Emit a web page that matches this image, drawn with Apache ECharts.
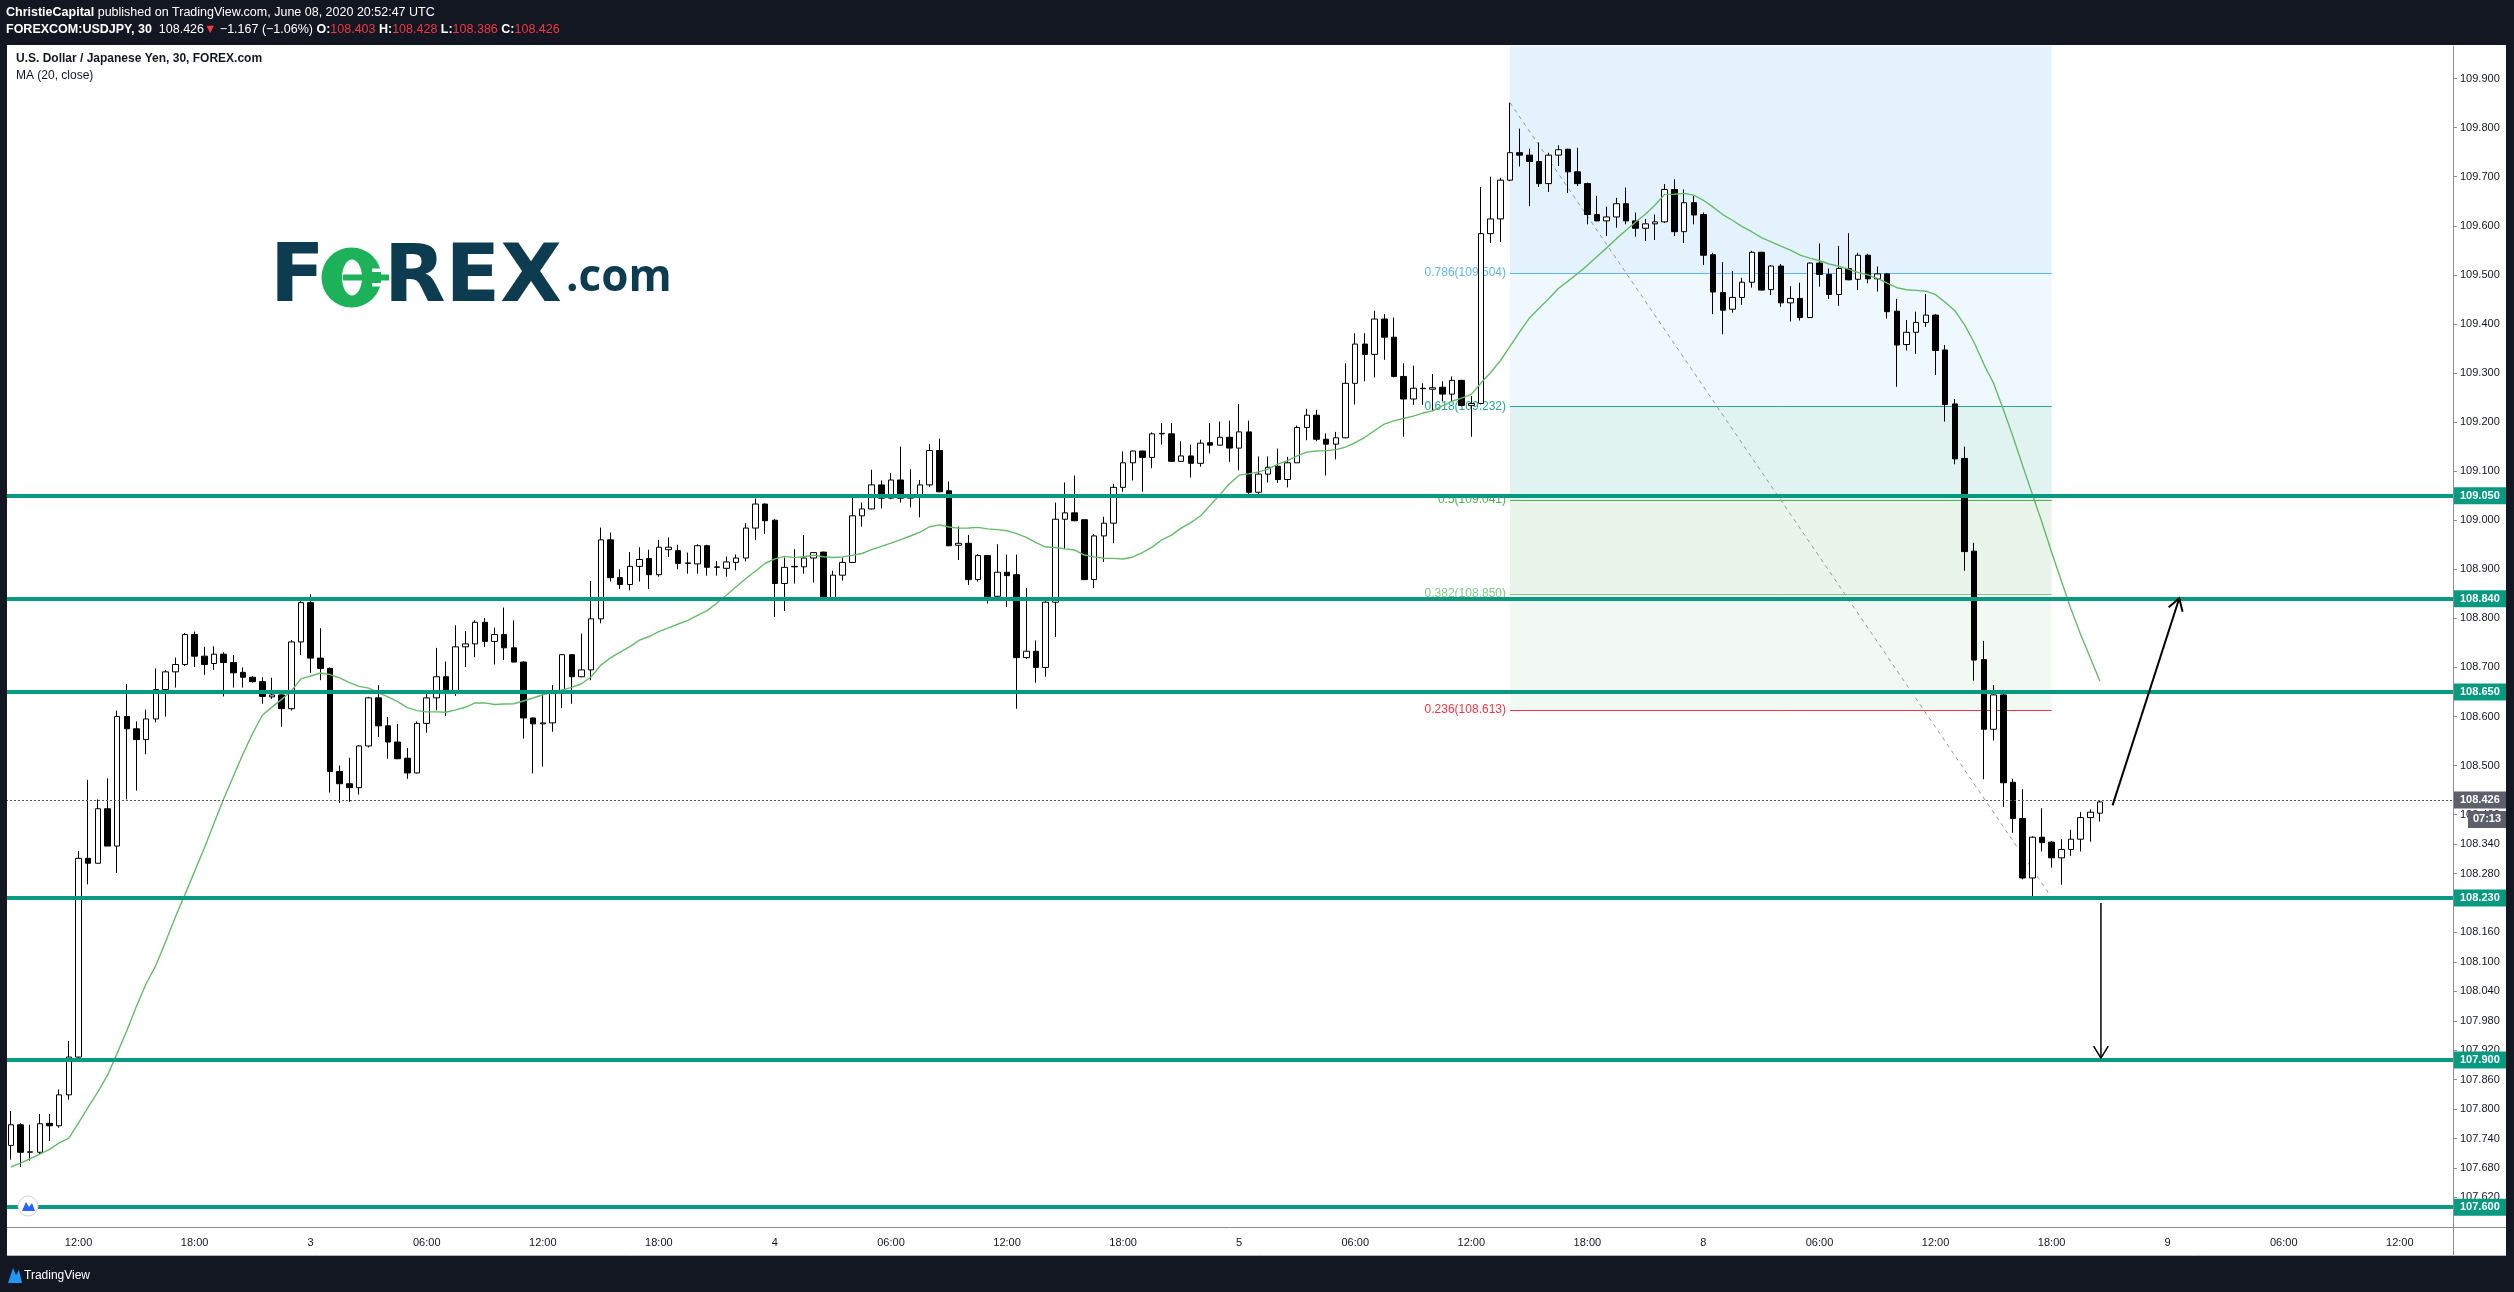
<!DOCTYPE html>
<html>
<head>
<meta charset="utf-8">
<title>USDJPY 30</title>
<script src="https://cdn.jsdelivr.net/npm/echarts@6/dist/echarts.min.js"></script>
<style>
  html, body { margin: 0; padding: 0; background: #131722; }
  #chart { width: 2514px; height: 1292px; }
</style>
</head>
<body>
<div id="chart"></div>
<script>
// 30 分鐘 K 線, 2020-06-02 08:30 UTC 起 (週末休市跳過), 共 217 根
const opens = [
  107.726,107.768,107.712,107.712,107.771,107.766,107.829,107.906,108.311,108.301,
  108.412,108.336,108.600,108.575,108.553,108.595,108.655,108.691,108.706,108.767,
  108.723,108.708,108.727,108.710,108.690,108.680,108.671,108.640,108.644,108.616,
  108.752,108.832,108.719,108.698,108.488,108.463,108.455,108.540,108.638,108.581,
  108.548,108.515,108.485,108.586,108.638,108.681,108.653,108.742,108.748,108.792,
  108.753,108.767,108.740,108.711,108.597,108.585,108.587,108.653,108.726,108.681,
  108.695,108.799,108.960,108.883,108.869,108.906,108.922,108.889,108.940,108.938,
  108.912,108.911,108.948,108.904,108.902,108.914,108.923,108.984,109.033,109.000,
  108.871,108.905,108.905,108.923,108.935,108.838,108.888,108.914,109.009,109.023,
  109.072,109.045,109.082,109.045,109.051,109.072,109.142,109.060,108.949,108.953,
  108.879,108.928,108.845,108.894,108.889,108.720,108.733,108.700,108.833,109.002,
  109.015,109.001,108.879,108.968,108.994,109.067,109.117,109.141,109.128,109.176,
  109.176,109.120,109.131,109.116,109.158,109.153,109.169,109.147,109.180,109.057,
  109.094,109.110,109.083,109.117,109.189,109.214,109.165,109.155,109.168,109.279,
  109.359,109.338,109.410,109.373,109.293,109.247,109.268,109.267,109.271,109.257,
  109.285,109.234,109.238,109.584,109.614,109.693,109.749,109.744,109.731,109.686,
  109.744,109.756,109.710,109.686,109.623,109.610,109.618,109.645,109.610,109.595,
  109.604,109.608,109.674,109.588,109.647,109.623,109.541,109.464,109.430,109.454,
  109.485,109.546,109.470,109.518,109.443,109.452,109.413,109.524,109.501,109.460,
  109.513,109.491,109.540,109.492,109.502,109.426,109.358,109.383,109.403,109.418,
  109.347,109.237,109.126,108.937,108.716,108.574,108.644,108.466,108.392,108.271,
  108.354,108.344,108.312,108.329,108.350,108.394,108.403
];
const highs = [
  107.796,107.771,107.768,107.790,107.790,107.840,107.939,108.326,108.471,108.431,
  108.474,108.612,108.666,108.590,108.614,108.698,108.695,108.720,108.770,108.773,
  108.742,108.743,108.731,108.725,108.700,108.682,108.680,108.679,108.653,108.756,
  108.838,108.849,108.780,108.700,108.500,108.516,108.542,108.640,108.664,108.599,
  108.585,108.536,108.590,108.652,108.740,108.712,108.786,108.774,108.796,108.801,
  108.781,108.822,108.796,108.712,108.598,108.645,108.664,108.727,108.727,108.769,
  108.876,108.985,108.975,108.900,108.935,108.945,108.940,108.960,108.965,108.950,
  108.934,108.951,108.950,108.917,108.926,108.930,108.994,109.044,109.034,109.002,
  108.924,108.941,108.970,108.935,108.936,108.897,108.924,109.053,109.036,109.103,
  109.081,109.096,109.150,109.104,109.082,109.155,109.166,109.079,108.987,108.970,
  108.931,108.929,108.951,108.930,108.930,108.862,108.755,108.839,109.036,109.077,
  109.091,109.002,108.972,109.007,109.074,109.140,109.142,109.142,109.179,109.198,
  109.198,109.161,109.154,109.164,109.198,109.201,109.203,109.237,109.203,109.130,
  109.130,109.146,109.129,109.193,109.227,109.225,109.177,109.180,109.320,109.381,
  109.381,109.427,109.420,109.413,109.320,109.315,109.279,109.298,109.283,109.293,
  109.286,109.253,109.679,109.700,109.698,109.851,109.798,109.757,109.770,109.749,
  109.764,109.757,109.759,109.688,109.661,109.639,109.657,109.678,109.627,109.614,
  109.623,109.685,109.695,109.674,109.661,109.627,109.545,109.526,109.508,109.494,
  109.549,109.547,109.520,109.522,109.477,109.484,109.525,109.564,109.513,109.559,
  109.585,109.545,109.543,109.517,109.504,109.451,109.408,109.425,109.461,109.420,
  109.357,109.247,109.150,108.954,108.754,108.664,108.647,108.473,108.452,108.356,
  108.413,108.346,108.350,108.369,108.405,108.411,108.428
];
const lows = [
  107.697,107.682,107.695,107.708,107.735,107.762,107.819,107.898,108.258,108.301,
  108.336,108.281,108.431,108.449,108.523,108.588,108.600,108.659,108.703,108.701,
  108.685,108.695,108.641,108.659,108.659,108.669,108.626,108.636,108.579,108.612,
  108.725,108.689,108.674,108.445,108.424,108.426,108.441,108.537,108.558,108.514,
  108.513,108.473,108.484,108.567,108.613,108.601,108.642,108.701,108.721,108.742,
  108.706,108.715,108.710,108.555,108.484,108.498,108.569,108.617,108.626,108.680,
  108.674,108.790,108.875,108.860,108.857,108.875,108.860,108.885,108.925,108.900,
  108.891,108.891,108.887,108.887,108.885,108.898,108.916,108.960,108.972,108.803,
  108.815,108.871,108.891,108.873,108.836,108.837,108.877,108.913,108.987,109.022,
  109.024,109.043,109.036,109.026,109.006,109.068,109.057,108.947,108.919,108.868,
  108.875,108.830,108.839,108.823,108.616,108.717,108.669,108.681,108.762,108.941,
  108.998,108.878,108.862,108.915,108.953,109.058,109.081,109.058,109.106,109.154,
  109.119,109.119,109.087,109.109,109.136,109.152,109.119,109.102,109.047,109.047,
  109.077,109.076,109.067,109.117,109.163,109.161,109.091,109.124,109.167,109.236,
  109.283,109.291,109.327,109.291,109.170,109.235,109.235,109.223,109.242,109.242,
  109.232,109.170,109.236,109.565,109.567,109.691,109.721,109.640,109.679,109.669,
  109.722,109.667,109.681,109.603,109.610,109.579,109.596,109.603,109.578,109.569,
  109.571,109.606,109.579,109.565,109.603,109.520,109.420,109.379,109.423,109.439,
  109.474,109.468,109.459,109.435,109.405,109.407,109.412,109.476,109.451,109.437,
  109.489,109.469,109.483,109.466,109.411,109.272,109.346,109.339,109.394,109.296,
  109.201,109.114,108.897,108.673,108.472,108.551,108.416,108.363,108.268,108.234,
  108.325,108.292,108.257,108.316,108.325,108.345,108.386
];
const closes = [
  107.768,107.712,107.713,107.770,107.766,107.829,107.906,108.311,108.301,108.412,
  108.336,108.600,108.575,108.553,108.595,108.655,108.691,108.706,108.767,108.723,
  108.706,108.727,108.710,108.689,108.680,108.671,108.641,108.644,108.616,108.752,
  108.832,108.719,108.698,108.488,108.463,108.455,108.540,108.638,108.581,108.548,
  108.514,108.485,108.586,108.638,108.681,108.653,108.742,108.748,108.792,108.753,
  108.767,108.740,108.711,108.597,108.585,108.587,108.653,108.726,108.681,108.695,
  108.799,108.960,108.883,108.869,108.906,108.920,108.889,108.945,108.945,108.912,
  108.913,108.948,108.904,108.905,108.915,108.923,108.984,109.033,108.999,108.871,
  108.904,108.906,108.923,108.934,108.837,108.888,108.914,109.009,109.023,109.072,
  109.045,109.082,109.045,109.051,109.072,109.142,109.058,108.948,108.953,108.879,
  108.928,108.844,108.894,108.887,108.720,108.733,108.700,108.833,109.002,109.015,
  108.999,108.879,108.968,108.994,109.067,109.117,109.141,109.128,109.176,109.177,
  109.120,109.131,109.116,109.157,109.153,109.169,109.147,109.180,109.057,109.094,
  109.108,109.083,109.117,109.189,109.214,109.165,109.155,109.168,109.279,109.359,
  109.338,109.410,109.373,109.293,109.247,109.269,109.269,109.270,109.257,109.285,
  109.234,109.238,109.584,109.614,109.693,109.749,109.744,109.731,109.686,109.744,
  109.755,109.710,109.686,109.623,109.610,109.618,109.645,109.610,109.595,109.604,
  109.608,109.674,109.588,109.647,109.622,109.540,109.465,109.428,109.454,109.485,
  109.546,109.469,109.518,109.443,109.452,109.413,109.524,109.501,109.460,109.513,
  109.490,109.540,109.492,109.502,109.425,109.357,109.383,109.403,109.418,109.346,
  109.236,109.125,108.936,108.715,108.574,108.644,108.465,108.392,108.271,108.354,
  108.343,108.312,108.329,108.350,108.394,108.405,108.426
];

// MA(20) 前 19 根需要畫面外的歷史收盤, 直接讀圖
const maLead = [
  107.682,107.690,107.699,107.708,107.718,107.731,107.741,107.772,107.804,107.835,
  107.869,107.914,107.960,108.010,108.056,108.093,108.141,108.191,108.237
];

// 支撐 / 壓力水平線
const levels = [109.050, 108.840, 108.650, 108.230, 107.900, 107.600];

// 費波那契回撤 (高點 109.851 -> 低點 108.231)
const fibRatios = [0.786, 0.618, 0.5, 0.382, 0.236];
const fibPrices = [109.504, 109.232, 109.041, 108.850, 108.613];
const fibHigh = 109.851;
const fibLow = 108.231;
const fibStart = 155; // 類目索引
const fibEnd = 211;

// 價格軸刻度 (TradingView 下半段改成 0.06 間距)
const priceTicks = [
  109.9, 109.8, 109.7, 109.6, 109.5, 109.4, 109.3, 109.2, 109.1, 109.0,
  108.9, 108.8, 108.7, 108.6, 108.5, 108.4, 108.34, 108.28, 108.22, 108.16,
  108.1, 108.04, 107.98, 107.92, 107.86, 107.8, 107.74, 107.68, 107.62
];
const yMin = 107.5597;
const yMax = 109.9664;
const lastPrice = 108.426;

// 手繪箭頭 [起點, 終點], [類目索引, 價格]
const arrows = [
  [[217.3, 108.419], [224.2, 108.841]],
  [[216.1, 108.220], [216.1, 107.904]]
];

/** 時間類目: 每 30 分鐘, 週五 21:00 到週日 21:00 休市 */
const times = [];
(function () {
  let t = Date.UTC(2020, 5, 2, 8, 30);
  const gapFrom = Date.UTC(2020, 5, 5, 21, 0);
  const gapTo = Date.UTC(2020, 5, 7, 21, 0);
  while (times.length < 253) {
    if (t < gapFrom || t >= gapTo) {
      times.push(new Date(t).toISOString().slice(0, 16).replace("T", " "));
    }
    t += 30 * 60 * 1000;
  }
})();

const candleData = opens.map((o, i) => [o, closes[i], lows[i], highs[i]]);
// MA(20, close): 之後用收盤價計算
const ma20 = closes.map((c, i) => {
  if (i < 19) return maLead[i];
  let s = 0;
  for (let k = i - 19; k <= i; k++) s += closes[k];
  return +(s / 20).toFixed(4);
});

const FONT = "'Liberation Sans', Arial, sans-serif";
const TEAL = "#089981";
const showTime = (idx, val) => {
  const hm = val.slice(11);
  return hm === "00:00" || hm === "06:00" || hm === "12:00" || hm === "18:00";
};

const fibColors = ["#64b5f6", "#26a69a", "#4caf50", "#81c784", "#f23645"];
const fibBands = [
  [yMax, fibPrices[0], "rgba(33,150,243,0.12)"],
  [fibPrices[0], fibPrices[1], "rgba(33,150,243,0.07)"],
  [fibPrices[1], fibPrices[2], "rgba(8,153,129,0.12)"],
  [fibPrices[2], fibPrices[3], "rgba(76,175,80,0.12)"],
  [fibPrices[3], fibPrices[4], "rgba(76,175,80,0.07)"]
];

/** 價格軸上的標籤方塊 */
const tagLabel = (text, bg) => ({
  show: true,
  position: "end",
  distance: 1,
  formatter: text,
  backgroundColor: bg,
  color: "#ffffff",
  fontWeight: "bold",
  fontSize: 11,
  fontFamily: FONT,
  padding: [3, 7, 3, 6]
});

const chart = echarts.init(document.getElementById("chart"));

const option = {
  animation: false,
  backgroundColor: "#ffffff",
  grid: { left: 6, right: 61, top: 46, bottom: 65 },
  xAxis: {
    type: "category",
    data: times,
    boundaryGap: true,
    axisLine: { lineStyle: { color: "#8a8d96", width: 1 } },
    axisTick: {
      interval: showTime,
      alignWithLabel: true,
      length: 3,
      lineStyle: { color: "#8a8d96" }
    },
    axisLabel: {
      interval: showTime,
      formatter: (v) => (v.slice(11) === "00:00" ? String(+v.slice(8, 10)) : v.slice(11)),
      color: "#131722",
      fontSize: 11,
      fontFamily: FONT,
      margin: 10
    },
    splitLine: { show: false }
  },
  yAxis: {
    type: "value",
    position: "right",
    min: yMin,
    max: yMax,
    axisLine: { show: true, lineStyle: { color: "#8a8d96" } },
    axisTick: { show: true, length: 4, customValues: priceTicks, lineStyle: { color: "#8a8d96" } },
    axisLabel: {
      customValues: priceTicks,
      formatter: (v) => v.toFixed(3),
      color: "#131722",
      fontSize: 11,
      fontFamily: FONT,
      margin: 7
    },
    splitLine: { show: false }
  },
  series: [
    // 費波那契區塊 (放在 K 線下層)
    {
      type: "line",
      data: [],
      z: 1,
      silent: true,
      markArea: {
        silent: true,
        data: fibBands.map((b) => [
          { coord: [times[fibStart], b[0]], itemStyle: { color: b[2] } },
          { coord: [times[fibEnd], b[1]] }
        ])
      },
      markLine: {
        silent: true,
        z: 1,
        symbol: "none",
        data: fibPrices
          .map((p, k) => [
            {
              coord: [times[fibStart], p],
              lineStyle: { color: fibColors[k], width: 1, type: "solid" },
              label: {
                show: true,
                position: "start",
                distance: 4,
                formatter: fibRatios[k] + "(" + p.toFixed(3) + ")",
                color: fibColors[k],
                fontSize: 12,
                fontFamily: FONT,
                padding: [0, 0, 16, 0]
              }
            },
            { coord: [times[fibEnd], p] }
          ])
          .concat([
            [
              {
                coord: [times[fibStart], fibHigh],
                lineStyle: { color: "#9598a1", width: 1, type: [4, 4] },
                label: { show: false }
              },
              { coord: [times[fibEnd], fibLow] }
            ]
          ])
      }
    },
    // K 線
    {
      type: "candlestick",
      data: candleData,
      z: 2,
      barWidth: 6,
      silent: true,
      itemStyle: {
        color: "#ffffff",
        color0: "#000000",
        borderColor: "#000000",
        borderColor0: "#000000",
        borderColorDoji: "#000000",
        borderWidth: 1
      }
    },
    // MA(20) 與水平線
    {
      type: "line",
      data: ma20,
      z: 3,
      silent: true,
      showSymbol: false,
      symbol: "none",
      lineStyle: { color: "#66bb6a", width: 1.4 },
      markLine: {
        silent: true,
        symbol: "none",
        data: levels
          .map((v) => ({
            yAxis: v,
            lineStyle: { color: TEAL, width: 4, type: "solid" },
            label: tagLabel(v.toFixed(3), TEAL)
          }))
          .concat([
            {
              yAxis: lastPrice,
              lineStyle: { color: "#555555", width: 1, type: [2, 2] },
              label: tagLabel(lastPrice.toFixed(3), "#5d606b")
            }
          ])
      }
    }
  ]
};
chart.setOption(option);

/** 類目索引可帶小數, 在相鄰兩根之間內插 */
const px = (i, p) => {
  const i0 = Math.floor(i);
  const f = i - i0;
  const a = chart.convertToPixel({ gridIndex: 0 }, [i0, p]);
  const b = chart.convertToPixel({ gridIndex: 0 }, [i0 + 1, p]);
  return [a[0] + (b[0] - a[0]) * f, a[1]];
};

const arrowEls = (seg, w) => {
  const s = px(seg[0][0], seg[0][1]);
  const e = px(seg[1][0], seg[1][1]);
  const ang = Math.atan2(e[1] - s[1], e[0] - s[0]);
  const L = 14;
  const spread = 0.55;
  const h1 = [e[0] - L * Math.cos(ang - spread), e[1] - L * Math.sin(ang - spread)];
  const h2 = [e[0] - L * Math.cos(ang + spread), e[1] - L * Math.sin(ang + spread)];
  return [
    { type: "polyline", z: 100, shape: { points: [s, e] }, style: { stroke: "#000", lineWidth: w, fill: null } },
    { type: "polyline", z: 100, shape: { points: [h1, e, h2] }, style: { stroke: "#000", lineWidth: w, fill: null } }
  ];
};

const priceY = chart.convertToPixel({ yAxisIndex: 0 }, lastPrice);
const white = "#ffffff";
const dark = "#131722";
const logoBlue = "#0d3b4f";
const logoGreen = "#1db25a";

const graphics = [
  // 外框深色區
  { type: "rect", z: 90, shape: { x: 0, y: 0, width: 2514, height: 45 }, style: { fill: dark } },
  { type: "rect", z: 90, shape: { x: 0, y: 1256, width: 2514, height: 36 }, style: { fill: dark } },
  { type: "rect", z: 90, shape: { x: 0, y: 0, width: 7, height: 1292 }, style: { fill: dark } },
  { type: "rect", z: 90, shape: { x: 2506, y: 0, width: 8, height: 1292 }, style: { fill: dark } },
  // 軸線延伸
  { type: "line", z: 90, shape: { x1: 2453.5, y1: 1227, x2: 2453.5, y2: 1256 }, style: { stroke: "#8a8d96", lineWidth: 1 } },
  { type: "line", z: 90, shape: { x1: 2453, y1: 1227.5, x2: 2506, y2: 1227.5 }, style: { stroke: "#8a8d96", lineWidth: 1 } },
  { type: "line", z: 90, shape: { x1: 7, y1: 1255.5, x2: 2506, y2: 1255.5 }, style: { stroke: "#b2b5be", lineWidth: 1 } },
  // 標題列
  {
    type: "text", z: 95, x: 6, y: 13,
    style: {
      text: "{b|ChristieCapital} published on TradingView.com, June 08, 2020 20:52:47 UTC",
      fill: white, fontSize: 12.5, fontFamily: FONT, verticalAlign: "middle",
      rich: { b: { fontWeight: "bold", fill: white, fontSize: 12.5, fontFamily: FONT } }
    }
  },
  {
    type: "text", z: 95, x: 6, y: 30,
    style: {
      text: "{b|FOREXCOM:USDJPY, 30}  108.426{r|▼} −1.167 (−1.06%) {b|O:}{r|108.403} {b|H:}{r|108.428} {b|L:}{r|108.386} {b|C:}{r|108.426}",
      fill: white, fontSize: 12.5, fontFamily: FONT, verticalAlign: "middle",
      rich: {
        b: { fontWeight: "bold", fill: white, fontSize: 12.5, fontFamily: FONT },
        r: { fill: "#f23645", fontSize: 12.5, fontFamily: FONT }
      }
    }
  },
  // 圖例
  {
    type: "text", z: 95, x: 16, y: 59,
    style: { text: "U.S. Dollar / Japanese Yen, 30, FOREX.com", fill: "#131722", fontSize: 12, fontWeight: "bold", fontFamily: FONT, verticalAlign: "middle" }
  },
  {
    type: "text", z: 95, x: 16, y: 76,
    style: { text: "MA (20, close)", fill: "#131722", fontSize: 12, fontFamily: FONT, verticalAlign: "middle" }
  },
  // FOREX.com 標誌
  {
    type: "text", z: 95, x: 270, y: 280,
    style: { text: "F", fill: logoBlue, fontSize: 80, fontWeight: "bold", fontFamily: "'DejaVu Sans', sans-serif", verticalAlign: "middle" }
  },
  { type: "circle", z: 95, shape: { cx: 351.5, cy: 277.5, r: 30 }, style: { fill: logoGreen } },
  { type: "ellipse", z: 96, shape: { cx: 352, cy: 277.5, rx: 10, ry: 18 }, style: { fill: white } },
  { type: "rect", z: 97, shape: { x: 343, y: 274.5, width: 46, height: 6 }, style: { fill: logoGreen } },
  { type: "rect", z: 97, shape: { x: 372, y: 268.5, width: 18, height: 3.5 }, style: { fill: white } },
  { type: "rect", z: 97, shape: { x: 372, y: 283, width: 18, height: 3.5 }, style: { fill: white } },
  {
    type: "text", z: 95, x: 384, y: 280,
    style: { text: "REX", fill: logoBlue, fontSize: 80, fontWeight: "bold", fontFamily: "'DejaVu Sans', sans-serif", verticalAlign: "middle" }
  },
  {
    type: "text", z: 95, x: 566, y: 278,
    style: { text: ".com", fill: logoBlue, fontSize: 44, fontWeight: "bold", fontFamily: "'Open Sans', sans-serif", verticalAlign: "middle" }
  },
  // 倒數計時
  { type: "rect", z: 100, shape: { x: 2468, y: priceY + 9, width: 38, height: 17 }, style: { fill: "#5d606b" } },
  {
    type: "text", z: 101, x: 2487, y: priceY + 17.5,
    style: { text: "07:13", fill: white, fontSize: 11, fontWeight: "bold", fontFamily: FONT, align: "center", verticalAlign: "middle" }
  },
  // 左下圓鈕
  { type: "circle", z: 95, shape: { cx: 28, cy: 1206, r: 10 }, style: { fill: white, stroke: "#d1d4dc", lineWidth: 1 } },
  { type: "polygon", z: 96, shape: { points: [[22, 1211], [26, 1202], [29, 1207], [32, 1203], [35, 1211]] }, style: { fill: "#2962ff" } },
  // TradingView 頁尾
  { type: "polygon", z: 95, shape: { points: [[8, 1283], [13, 1268], [16, 1275], [19, 1270], [22, 1283]] }, style: { fill: "#2196f3" } },
  {
    type: "text", z: 95, x: 24, y: 1276,
    style: { text: "TradingView", fill: white, fontSize: 12, fontFamily: FONT, verticalAlign: "middle" }
  }
]
  .concat(arrowEls(arrows[0], 2))
  .concat(arrowEls(arrows[1], 1.5));

chart.setOption({ graphic: graphics });
</script>
</body>
</html>
